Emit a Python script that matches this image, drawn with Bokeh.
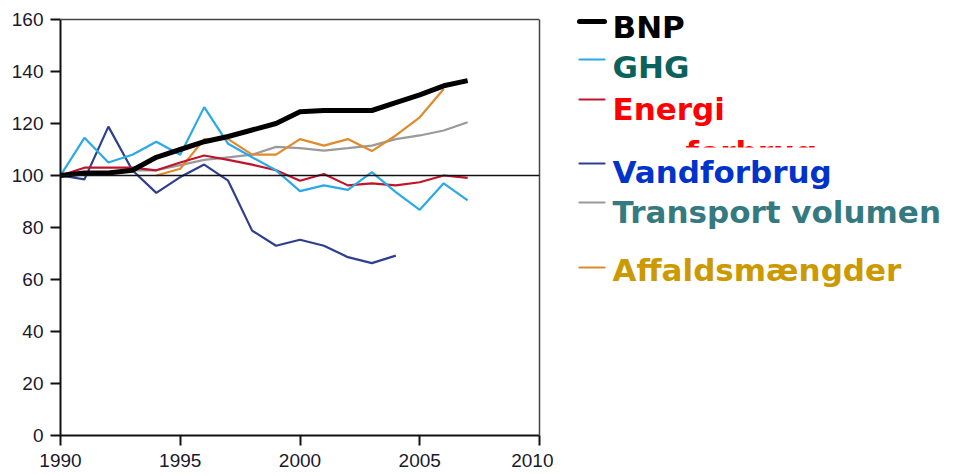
from bokeh.plotting import figure
from bokeh.layouts import row
from bokeh.models import Range1d, FixedTicker, Span, ColumnDataSource, Label, LinearAxis
from bokeh.core.properties import value
from bokeh.embed import file_html
from bokeh.resources import INLINE

years = list(range(1990, 2008))
bnp = [100, 101, 101, 102, 107, 110, 113, 115, 117.5, 120, 124.5, 125, 125, 125, 128, 131, 134.5, 136.5]
ghg = [100, 114.5, 105, 108, 113, 108, 126.3, 112.2, 107, 102, 94, 96.2, 94.5, 101.3, 93.6, 86.8, 97, 90.4]
energi = [100, 103, 103, 103, 102, 105, 107.7, 106, 104.2, 102, 98, 100.6, 96.2, 97, 96.2, 97.4, 100, 99.1]
vand_years = list(range(1990, 2005))
vand = [100, 98.5, 118.8, 102, 93.3, 99.4, 104.2, 98, 78.8, 73, 75.3, 73, 68.6, 66.3, 69.2]
transport = [100, 100.5, 101, 102, 102, 104, 106, 107, 108, 111, 110.5, 109.6, 110.5, 111.5, 114, 115.4, 117.3, 120.5]
affald_years = list(range(1994, 2007))
affald = [100, 102.6, 114, 114, 108, 108, 114, 111.5, 114, 109.4, 115.4, 122.4, 133.3]

x_ticks = [1990, 1995, 2000, 2005, 2010]
y_ticks = [0, 20, 40, 60, 80, 100, 120, 140, 160]

legend_labels = ["BNP", "GHG", "Energi", "Vandforbrug", "Transport volumen", "Affaldsmængder"]
line_colors = ["#000000", "#2aa9e6", "#c0142c", "#2f3f8f", "#9a9a9a", "#e08a2c"]
text_colors = ["#000000", "#0b625c", "#ff0000", "#0033cc", "#357a80", "#cc9900"]
line_widths = [5, 2.2, 2.2, 2.2, 2.2, 2.2]

H = 474
FRAME_BOTTOM = 435          # page y of value 0
PX_PER_UNIT = 2.6           # 416 px for 0..160
Y_MAX = 160
Y_TOP = FRAME_BOTTOM / PX_PER_UNIT   # range extends to page top (y=0)
BOTTOM = H - FRAME_BOTTOM

# ---------------- main chart ----------------
p = figure(width=553, height=H, output_backend="svg", toolbar_location=None, title=None,
           x_range=Range1d(1990, 2010), y_range=Range1d(0, Y_TOP),
           min_border_left=60, min_border_right=14, min_border_top=0, min_border_bottom=BOTTOM)
p.xgrid.visible = False
p.ygrid.visible = False
p.outline_line_color = None
p.background_fill_color = "white"
p.border_fill_color = "white"

for ax, ticks in ((p.xaxis[0], x_ticks), (p.yaxis[0], y_ticks)):
    ax.ticker = FixedTicker(ticks=ticks)
    ax.minor_tick_line_color = None
    ax.major_tick_in = 0
    ax.major_tick_out = 10
    ax.major_tick_line_color = "#111111"
    ax.major_tick_line_width = 2
    ax.axis_line_color = "#111111"
    ax.axis_line_width = 2
    ax.major_label_text_font = "Liberation Sans"
    ax.major_label_text_font_size = "19px"
    ax.major_label_text_color = "#1a1a2a"
p.yaxis[0].bounds = (0, Y_MAX)
p.yaxis[0].major_label_standoff = 7
p.xaxis[0].major_label_standoff = 8

right_axis = LinearAxis(bounds=(0, Y_MAX), ticker=FixedTicker(ticks=[]),
                        axis_line_color="#444444", axis_line_width=1.5,
                        major_tick_line_color=None, minor_tick_line_color=None)
p.add_layout(right_axis, "right")

p.add_layout(Span(location=Y_MAX, dimension="width", line_color="#444444", line_width=1.5))
p.add_layout(Span(location=100, dimension="width", line_color="#111111", line_width=1.5))

p.line(years, transport, line_color=line_colors[4], line_width=line_widths[4])
p.line(affald_years, affald, line_color=line_colors[5], line_width=line_widths[5])
p.line(vand_years, vand, line_color=line_colors[3], line_width=line_widths[3])
p.line(years, energi, line_color=line_colors[2], line_width=line_widths[2])
p.line(years, ghg, line_color=line_colors[1], line_width=line_widths[1])
p.line(years, bnp, line_color=line_colors[0], line_width=line_widths[0])

# ---------------- legend panel (page pixel coordinates) ----------------
LW = 394
lg = figure(width=LW, height=H, output_backend="svg", toolbar_location=None, title=None,
            x_range=Range1d(553, 553 + LW), y_range=Range1d(FRAME_BOTTOM, 0),
            min_border_left=0, min_border_right=0, min_border_top=0, min_border_bottom=BOTTOM)
lg.axis.visible = False
lg.grid.visible = False
lg.outline_line_color = None

line_y = [21, 59, 99, 163, 202, 267]
text_y = [26, 66, 108, 171, 211, 269]

# partially hidden second line of "Energiforbrug"
lg.text(x=[685], y=[151], text=["forbrug"], text_color="#ff0000",
        text_font=value("DejaVu Sans"), text_font_style="bold",
        text_font_size="31px", text_baseline="alphabetic")
lg.quad(left=[560], right=[553 + LW], top=[147], bottom=[195], fill_color="white", line_color=None)

src = ColumnDataSource(dict(x0=[579] * 6, x1=[604] * 6, ly=line_y,
                            lc=line_colors, lw=line_widths))
lg.segment(x0="x0", y0="ly", x1="x1", y1="ly", line_color="lc", line_width="lw",
           line_cap="round", source=src)

for lab, ty, tc in zip(legend_labels, text_y, text_colors):
    lg.add_layout(Label(x=612, y=ty, text=lab, text_color=tc, text_font="DejaVu Sans",
                        text_font_style="bold", text_font_size="31px",
                        text_baseline="alphabetic"))

layout = row(p, lg, spacing=0)
open("out.html", "w").write(file_html(layout, INLINE))
